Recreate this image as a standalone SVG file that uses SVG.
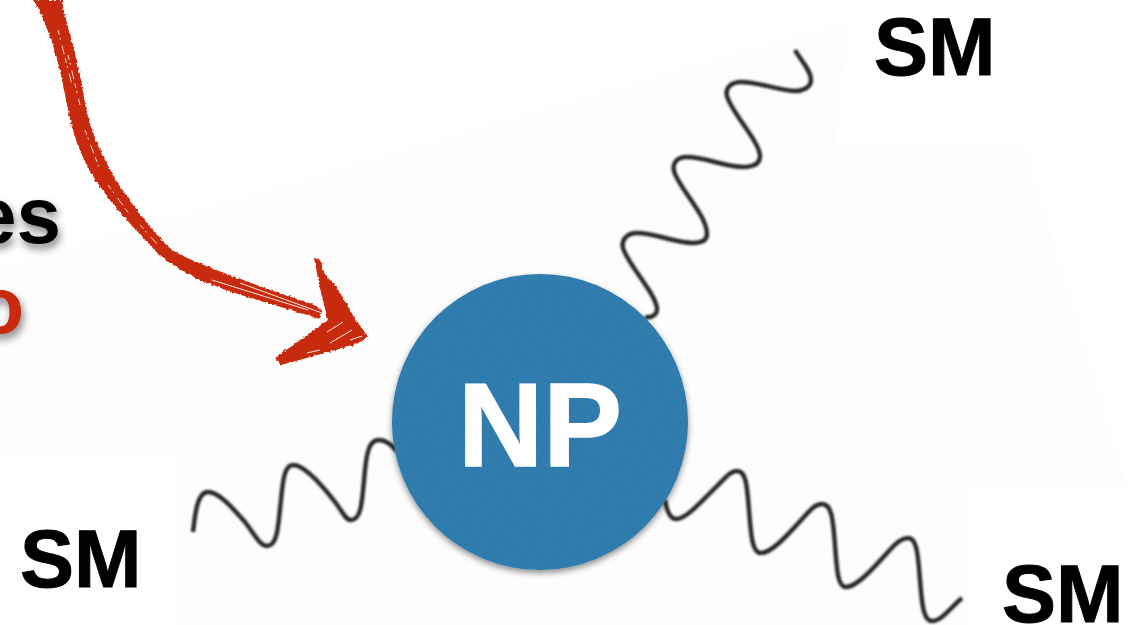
<svg xmlns="http://www.w3.org/2000/svg" width="1143" height="625" viewBox="0 0 1143 625">
<defs>
<filter id="soft" x="-5%" y="-5%" width="110%" height="110%"><feGaussianBlur stdDeviation="0.8"/></filter>
<filter id="txtShadow" x="-30%" y="-30%" width="170%" height="170%"><feGaussianBlur in="SourceAlpha" stdDeviation="4"/><feOffset dx="2" dy="5"/><feComponentTransfer><feFuncA type="linear" slope="0.5"/></feComponentTransfer><feMerge><feMergeNode/><feMergeNode in="SourceGraphic"/></feMerge></filter>
<filter id="circ" x="-10%" y="-10%" width="120%" height="120%"><feTurbulence type="fractalNoise" baseFrequency="0.5" numOctaves="3" seed="7" result="n"/><feColorMatrix in="n" type="matrix" values="0 0 0 0 0.08  0 0 0 0 0.25  0 0 0 0 0.42  0 0 0 0.5 -0.12" result="c"/><feComposite in="c" in2="SourceGraphic" operator="in" result="tex"/><feGaussianBlur in="SourceAlpha" stdDeviation="3"/><feOffset dy="3"/><feComponentTransfer result="sh"><feFuncA type="linear" slope="0.45"/></feComponentTransfer><feMerge><feMergeNode in="sh"/><feMergeNode in="SourceGraphic"/><feMergeNode in="tex"/></feMerge></filter>
<filter id="rough" x="-5%" y="-5%" width="110%" height="110%"><feTurbulence type="fractalNoise" baseFrequency="0.35" numOctaves="2" seed="4"/><feDisplacementMap in="SourceGraphic" scale="3.5" xChannelSelector="R" yChannelSelector="G"/><feGaussianBlur stdDeviation="0.35"/></filter>
</defs>
<style>
.wave{fill:none;stroke:#262626;stroke-width:4.4;stroke-linecap:butt;filter:url(#soft)}
.sm{font:bold 81px "Liberation Sans",Arial,sans-serif;fill:#000;stroke:#000;stroke-width:1}
.big{font:bold 80px "Liberation Sans",Arial,sans-serif;text-anchor:end;filter:url(#txtShadow)}
.red{fill:#c8290a}
.streak{fill:none;stroke:#fff;stroke-width:0.8;stroke-dasharray:5 3 2 6 9 4}
.streak2{fill:none;stroke:#fff;stroke-width:0.9}
</style>
<rect width="1143" height="625" fill="#fff"/>
<path d="M0,268 L850,20 L835,145 L1025,145 L1128,490 L968,490 L968,625 L175,625 L175,457 L0,455Z" fill="#fdfdfd"/>
<g id="label-es"><text class="big" x="61" y="243" fill="#000">es</text></g>
<g id="label-o"><text class="big" x="24" y="333" fill="#c8290a">o</text></g>
<g id="connectors">
<path class="wave" d="M795,50 C801,61 811,70 811,80 C811,88 802,91 795,91 C780,91 760,82 741,82 C731,82 725,88 727,96 C731,112 760,142 760,156 C760,165 752,167 743,167 C725,167 705,157 687,157 C677,157 672,163 674,171 C678,187 707,215 707,234 C707,241 700,243 693,243 C675,243 655,233 637,233 C627,233 621,240 623,248 C628,265 657,295 657,309 C657,316 650,318 645,317"/>
<path class="wave" d="M193,532 C195,515 197,492 208,492 C218,492 230,505 245,522 C255,535 260,546 267,546 C278,546 278,525 281,500 C283,478 285,465 293,465 C303,465 318,480 335,502 C343,512 345,520 351,520 C362,520 362,500 365,470 C367,450 370,440 379,440 C387,440 392,446 398,452"/>
<path class="wave" d="M665,500 C667,512 670,519 676,519 C686,519 700,503 718,485 C727,476 731,471 737,471 C746,471 747,485 749,510 C751,535 752,553 761,553 C771,553 785,538 803,518 C812,508 816,504 822,504 C832,504 833,520 835,545 C837,572 838,587 846,587 C856,587 870,572 888,552 C897,542 902,538 908,538 C917,538 918,555 920,580 C922,607 924,621 932,621 C942,621 952,606 962,598"/>
<g id="red-arrow">
<g filter="url(#rough)">
<path class="red" d="M33,0 L62,0 C65,22 76,50 82,85 C87,125 99,150 117,182 C135,208 152,232 172,250 C192,262 225,273 270,290 L312,304 L322,310 L320,319 C280,306 240,296 210,284 C190,277 175,266 160,256 C140,234 118,212 104,192 C85,167 75,142 69,115 C64,90 59,60 51,40 C45,22 40,10 33,0Z"/>
<path class="red" d="M314,258 C320,258 322,262 322,268 L326,276 L336,286 L354,317 L368,337 L354,345 L281,365 L275,358 L328,320 L321,293 Z"/>
</g>
<path class="streak" d="M58,30 L72,85 M68,55 L80,105 M85,130 L100,170 M108,185 L130,215 M140,225 L158,245"/>
<path class="streak2" d="M212,280 L308,310 M240,283 L322,313"/>
<path class="streak2" d="M327,332 L343,322 M330,343 L352,330 M307,353 L320,350 M350,340 L362,336"/>
</g>
</g>
<g id="np">
<circle cx="540" cy="422" r="148" fill="#297aad" filter="url(#circ)"/>
<text x="540" y="466" text-anchor="middle" style="font:bold 118px 'Liberation Sans',Arial,sans-serif;stroke:#fff;stroke-width:1.5" fill="#fff">NP</text>
</g>
<g id="sm-top"><text class="sm" x="874" y="75">SM</text></g>
<g id="sm-left"><text class="sm" x="20" y="587">SM</text></g>
<g id="sm-right"><text class="sm" x="1002" y="622">SM</text></g>
</svg>
